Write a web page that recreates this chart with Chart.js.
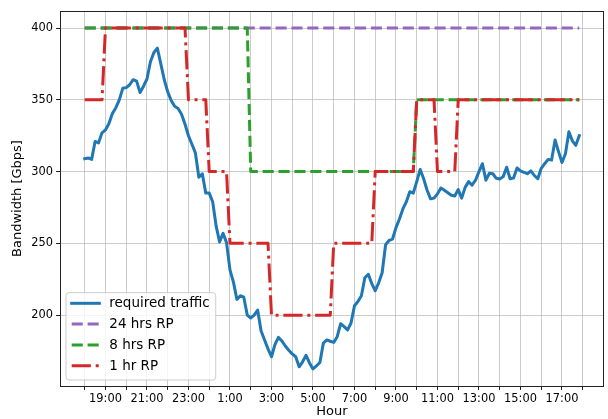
<!DOCTYPE html>
<html>
<head>
<meta charset="utf-8">
<script src="https://cdn.jsdelivr.net/npm/chart.js@4.4.0/dist/chart.umd.min.js"></script>
<style>
  html, body { margin: 0; padding: 0; background: #fff; }
</style>
</head>
<body>
<canvas id="chart" width="608" height="419"></canvas>
<script>
// required traffic [Gbps], one sample every 10 minutes from 18:00
const traffic = [
    309, 309.5, 308.5, 321, 320, 327, 329, 333.5, 340.5, 344.5,
    350, 358, 358.5, 360.5, 364, 363, 355, 359.5, 364.5, 376.5,
    383, 386, 375, 364, 355.5, 349.5, 345.5, 344, 340, 333,
    325, 319, 313, 296, 298.5, 285, 285, 279, 262, 251,
    257, 250.5, 231.5, 223, 211, 213.5, 212.5, 200, 198, 200,
    203.5, 189, 182.7, 176.5, 171, 179.5, 184.5, 182, 178.5, 175.5,
    173, 171, 164, 167.5, 172, 166.7, 162.5, 164.6, 167, 180.5,
    182.7, 181.8, 181, 185, 194, 192, 189.7, 194.5, 206.5, 209.5,
    213.5, 226, 228.5, 222, 217, 222.5, 229.5, 249, 252, 253,
    261, 267, 274, 279, 286, 285, 293, 301.5, 295, 287,
    281, 281.5, 284.5, 288.5, 287, 285.3, 283.5, 283, 287.5, 281.5,
    289, 293, 290.5, 294, 300, 305.5, 294, 298.8, 298.5, 295.3,
    294.8, 296.5, 303, 295, 295.5, 302.5, 300.5, 299.5, 298.5, 300.5,
    297.3, 295, 302.3, 305.5, 308.5, 308, 322, 313.9, 306.3, 312.4,
    327.8, 321.4, 318.3, 325
];
const STEP_H = 10 / 60;

// reserved bandwidth per period, periods start at 18:00
const dayRP = [400];                 // 24 hrs blocks
const eightHrsRP = [400, 300, 350];  // 8 hrs blocks
const oneHrRP = [350, 400, 400, 400, 400, 350, 300, 250, 250, 200, 200, 200,
                 250, 250, 300, 300, 350, 300, 350, 350, 350, 350, 350, 350];

// x ticks: hours after 18:00
const tickHours = [0, 1, 2, 3, 4, 5, 6, 7, 8, 9, 10, 11, 12, 13, 14, 15, 16, 17, 18, 19, 20, 21, 22, 23, 24];
const tickLabels = ['', '19:00', '', '21:00', '', '23:00', '', '1:00', '', '3:00', '', '5:00',
                    '', '7:00', '', '9:00', '', '11:00', '', '13:00', '', '15:00', '', '17:00', ''];
const yTicks = [200, 250, 300, 350, 400];

const seriesNames = ['required traffic', '24 hrs RP', '8 hrs RP', '1 hr RP'];
const colors = ['#1f77b4', '#9467bd', '#2ca02c', '#d62728'];

const LW = 3;
const DASHED = [3.7 * LW, 1.6 * LW];
const DASHDOT = [6.4 * LW, 1.6 * LW, 1 * LW, 1.6 * LW];

function blockPoints(values, hours) {
    let pts = [];
    values.forEach((v, k) => {
        pts.push({ x: k * hours, y: v });
        pts.push({ x: (k + 1) * hours - STEP_H, y: v });
    });
    return pts;
}

const trafficPts = traffic.map((v, i) => ({ x: i * STEP_H, y: v }));

// matplotlib style 5% margins
const xLast = (traffic.length - 1) * STEP_H;
const yLo = Math.min(...traffic), yHi = 400;
const xMargin = 0.05 * xLast, yMargin = 0.05 * (yHi - yLo);

const line = {
    borderWidth: LW,
    pointRadius: 0,
    pointHoverRadius: 0,
    tension: 0,
    fill: false,
    borderJoinStyle: 'round',
};

const datasets = [
    { ...line, label: seriesNames[0], data: trafficPts, borderColor: colors[0], borderCapStyle: 'square', order: 4 },
    { ...line, label: seriesNames[1], data: blockPoints(dayRP, 24), borderColor: colors[1], borderDash: DASHED, borderCapStyle: 'butt', order: 3 },
    { ...line, label: seriesNames[2], data: blockPoints(eightHrsRP, 8), borderColor: colors[2], borderDash: DASHED, borderCapStyle: 'butt', order: 2 },
    { ...line, label: seriesNames[3], data: blockPoints(oneHrRP, 1), borderColor: colors[3], borderDash: DASHDOT, borderCapStyle: 'butt', order: 1 },
];

// frame round the plot and the legend box in the lower left
const frameAndLegend = {
    id: 'frameAndLegend',
    afterDraw(chart) {
        const ctx = chart.ctx;
        const a = chart.chartArea;
        ctx.save();
        ctx.strokeStyle = '#222';
        ctx.lineWidth = 1;
        ctx.strokeRect(a.left + 0.5, a.top + 0.5, a.right - a.left - 1, a.bottom - a.top);

        ctx.font = '13.5px "DejaVu Sans"';
        const textW = Math.max(...seriesNames.map(s => ctx.measureText(s).width));
        const bx = a.left + 6, by = a.top + 281.7;
        const lineX = bx + 5.7, textX = bx + 43.3;
        const bw = textX - bx + textW + 6, bh = a.bottom - 6 - by;
        ctx.beginPath();
        ctx.roundRect(bx, by, bw, bh, 3);
        ctx.fillStyle = 'rgba(255,255,255,0.8)';
        ctx.fill();
        ctx.strokeStyle = '#cccccc';
        ctx.stroke();

        datasets.forEach((ds, k) => {
            const ry = by + 10.6 + k * 20.8;
            ctx.beginPath();
            ctx.setLineDash(ds.borderDash || []);
            ctx.lineCap = ds.borderCapStyle;
            ctx.lineWidth = LW;
            ctx.strokeStyle = ds.borderColor;
            ctx.moveTo(lineX, ry);
            ctx.lineTo(lineX + 27.6, ry);
            ctx.stroke();
            ctx.setLineDash([]);
            ctx.fillStyle = '#000';
            ctx.textBaseline = 'middle';
            ctx.fillText(ds.label, textX, ry + 0.5);
        });
        ctx.restore();
    }
};

Chart.defaults.font.family = '"DejaVu Sans"';
Chart.defaults.color = '#000';

const gridStyle = {
    color: 'rgba(176,176,176,0.65)',
    lineWidth: 1,
    tickLength: 4,
    tickColor: '#222',
};

new Chart(document.getElementById('chart'), {
    type: 'line',
    data: { datasets },
    options: {
        responsive: false,
        animation: false,
        devicePixelRatio: 1,
        layout: { padding: { top: 11, right: 4, left: 0, bottom: 0 } },
        plugins: { legend: { display: false }, tooltip: { enabled: false } },
        scales: {
            x: {
                type: 'linear',
                min: -xMargin,
                max: xLast + xMargin,
                afterBuildTicks: (s) => { s.ticks = tickHours.map(v => ({ value: v })); },
                afterFit: (s) => { s.height = 33; },
                ticks: {
                    autoSkip: false,
                    maxRotation: 0,
                    padding: 2,
                    font: { size: 11.4 },
                    callback: (v, i) => tickLabels[i],
                },
                grid: gridStyle,
                border: { display: false },
                title: { display: true, text: 'Hour', font: { size: 13 }, padding: { top: 0, bottom: 0 } },
            },
            y: {
                type: 'linear',
                min: yLo - yMargin,
                max: yHi + yMargin,
                afterBuildTicks: (s) => { s.ticks = yTicks.map(v => ({ value: v })); },
                afterFit: (s) => { s.width = 60; },
                ticks: { padding: 3, font: { size: 11.4 } },
                grid: gridStyle,
                border: { display: false },
                title: { display: true, text: 'Bandwidth [Gbps]', font: { size: 13 }, padding: { top: 10, bottom: 0 } },
            },
        },
    },
    plugins: [frameAndLegend],
});
</script>
</body>
</html>
